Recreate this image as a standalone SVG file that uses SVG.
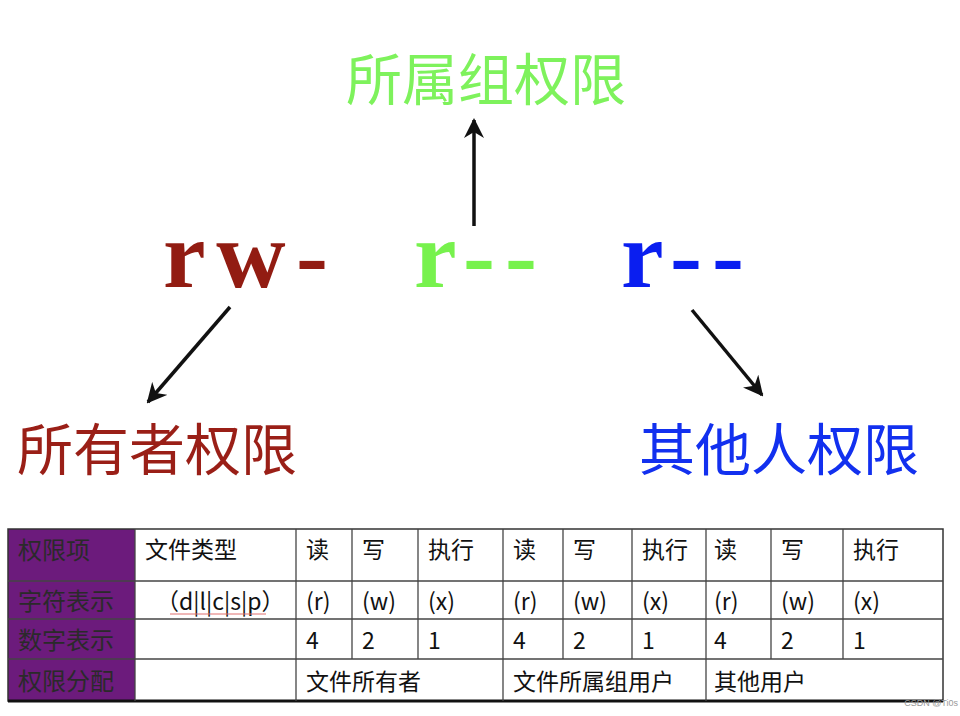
<svg xmlns="http://www.w3.org/2000/svg" width="960" height="716" viewBox="0 0 960 716">
<style>
.big{font-family:"Liberation Serif",serif;font-weight:bold;font-size:96px}
.lab{font-family:"Noto Sans CJK SC",sans-serif;font-size:56px}
.t{font-family:"Noto Sans CJK SC","Noto Sans",sans-serif;font-size:23px;fill:#111}
.h{font-family:"Noto Sans CJK SC",sans-serif;font-size:24px;fill:#2a2a2a}
.g{stroke:#444;stroke-width:1.3}
</style>
<defs>
<marker id="a" viewBox="0 0 10 10" refX="9" refY="5" markerWidth="20" markerHeight="20" orient="auto" markerUnits="userSpaceOnUse"><path d="M0,0 L10,5 L0,10 L3,5 z" fill="#111"/></marker></defs>
<rect width="960" height="716" fill="#fff"/>
<g id="n-group"><text class="lab" x="486" y="100" text-anchor="middle" fill="#7ef25c">所属组权限</text></g>
<g id="n-owner"><text class="lab" x="157" y="470" text-anchor="middle" fill="#9a1f17">所有者权限</text></g>
<g id="n-other"><text class="lab" x="779" y="470" text-anchor="middle" fill="#1230ef">其他人权限</text></g>
<g id="n-rw"><text class="big" x="163" y="287" fill="#921c12" textLength="165" lengthAdjust="spacing">rw-</text></g>
<g id="n-r1"><text class="big" x="414" y="287" fill="#77f24d" textLength="123" lengthAdjust="spacing">r--</text></g>
<g id="n-r2"><text class="big" x="621" y="287" fill="#0a1ef0" textLength="123" lengthAdjust="spacing">r--</text></g>
<g id="connectors" stroke="#111" stroke-width="3.5" fill="none">
<line x1="474" y1="226" x2="474" y2="120" marker-end="url(#a)"/>
<line x1="230" y1="307" x2="148" y2="402" marker-end="url(#a)"/>
<line x1="692" y1="310" x2="762" y2="395" marker-end="url(#a)"/>
</g>
<g id="table">
<rect x="8" y="529" width="127" height="172" fill="#6c1b7c"/>
<rect x="8" y="529" width="935" height="172" fill="none" stroke="#333" stroke-width="1.5"/>
<line x1="8" y1="701" x2="943" y2="701" stroke="#111" stroke-width="3"/>
<g class="g">
<line x1="8" y1="581" x2="943" y2="581"/><line x1="8" y1="619" x2="943" y2="619"/><line x1="8" y1="659" x2="943" y2="659"/>
<line x1="135" y1="529" x2="135" y2="701"/><line x1="296" y1="529" x2="296" y2="701"/><line x1="503" y1="529" x2="503" y2="701"/><line x1="706" y1="529" x2="706" y2="701"/>
<line x1="352" y1="529" x2="352" y2="659"/><line x1="418" y1="529" x2="418" y2="659"/><line x1="563" y1="529" x2="563" y2="659"/><line x1="632" y1="529" x2="632" y2="659"/><line x1="771" y1="529" x2="771" y2="659"/><line x1="843" y1="529" x2="843" y2="659"/>
</g>
<text class="h" x="18" y="559">权限项</text>
<text class="h" x="18" y="610">字符表示</text>
<text class="h" x="18" y="649">数字表示</text>
<text class="h" x="18" y="690">权限分配</text>
<text class="t" x="145" y="558">文件类型</text>
<text class="t" x="156" y="610">（d|l|c|s|p）</text>
<line x1="170" y1="614" x2="266" y2="614" stroke="#e07070" stroke-width="1"/>
<g class="t">
<text x="306" y="558">读</text><text x="362" y="558">写</text><text x="428" y="558">执行</text>
<text x="513" y="558">读</text><text x="573" y="558">写</text><text x="642" y="558">执行</text>
<text x="714" y="558">读</text><text x="781" y="558">写</text><text x="853" y="558">执行</text>
<text x="306" y="610">(r)</text><text x="362" y="610">(w)</text><text x="428" y="610">(x)</text>
<text x="513" y="610">(r)</text><text x="573" y="610">(w)</text><text x="642" y="610">(x)</text>
<text x="714" y="610">(r)</text><text x="781" y="610">(w)</text><text x="853" y="610">(x)</text>
<text x="306" y="649">4</text><text x="362" y="649">2</text><text x="428" y="649">1</text>
<text x="513" y="649">4</text><text x="573" y="649">2</text><text x="642" y="649">1</text>
<text x="714" y="649">4</text><text x="781" y="649">2</text><text x="853" y="649">1</text>
<text x="306" y="690">文件所有者</text><text x="513" y="690">文件所属组用户</text><text x="714" y="690">其他用户</text>
</g>
</g>
<text x="958" y="706" text-anchor="end" font-family="Liberation Sans,sans-serif" font-size="9" fill="#999">CSDN @Ti0s</text>
</svg>
